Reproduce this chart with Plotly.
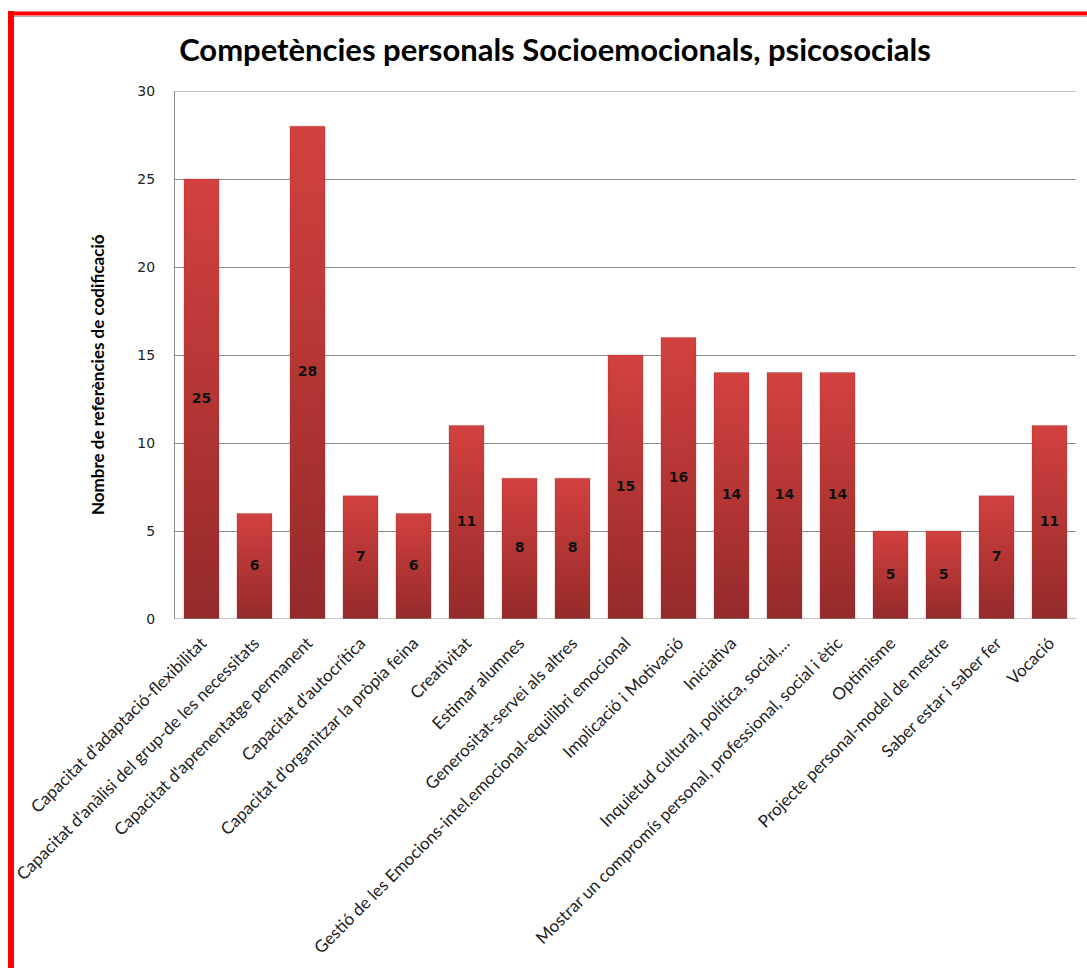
import plotly.graph_objects as go

# Categories and counts
categories = [
    "Capacitat d'adaptació-flexibilitat",
    "Capacitat d'anàlisi del grup-de les necessitats",
    "Capacitat d'aprenentatge permanent",
    "Capacitat d'autocrítica",
    "Capacitat d'organitzar la pròpia feina",
    "Creativitat",
    "Estimar alumnes",
    "Generositat-servei als altres",
    "Gestió de les Emocions-intel.emocional-equilibri emocional",
    "Implicació i Motivació",
    "Iniciativa",
    "Inquietud cultural, política, social,...",
    "Mostrar un compromís personal, professional, social i ètic",
    "Optimisme",
    "Projecte personal-model de mestre",
    "Saber estar i saber fer",
    "Vocació",
]
values = [25, 6, 28, 7, 6, 11, 8, 8, 15, 16, 14, 14, 14, 5, 5, 7, 11]

y_ticks = [0, 5, 10, 15, 20, 25, 30]

W, H = 1087, 968
L, R, T, B = 175, 11, 91, 349
PW, PH = W - L - R, H - T - B

def px_x(p):
    return (p - L) / PW

def px_y(p):
    return (H - B - p) / PH

half = 0.33
fig = go.Figure()

# one filled shape per bar with a vertical red gradient
for i, v in enumerate(values):
    fig.add_trace(go.Scatter(
        x=[i - half, i - half, i + half, i + half, i - half],
        y=[0, v, v, 0, 0],
        mode="lines",
        line=dict(width=0.8, color="rgba(140,40,40,0.35)"),
        fill="toself",
        fillgradient=dict(
            type="vertical",
            colorscale=[[0, "#952a2a"], [1, "#d2413f"]],
        ),
        hoverinfo="skip",
        showlegend=False,
    ))

# value labels in the middle of each bar
fig.add_trace(go.Scatter(
    x=list(range(len(values))),
    y=[v / 2 for v in values],
    mode="text",
    text=[str(v) for v in values],
    textfont=dict(family="DejaVu Sans", size=14, color="#111111", weight="bold"),
    textposition="middle center",
    hoverinfo="skip",
    showlegend=False,
))

fig.update_layout(
    width=W,
    height=H,
    margin=dict(l=L, r=R, t=T, b=B, autoexpand=False),
    paper_bgcolor="white",
    plot_bgcolor="white",
    title=dict(
        text="<b>Competències personals Socioemocionals, psicosocials</b>",
        font=dict(family="Lato", size=31, color="#000000"),
        x=555 / W,
        xanchor="center",
        xref="container",
        y=1 - 50 / H,
        yanchor="middle",
        yref="container",
    ),
    xaxis=dict(
        range=[-0.5, len(values) - 0.5],
        tickvals=list(range(len(values))),
        ticktext=categories,
        tickangle=-45,
        tickfont=dict(family="Lato", size=17, color="#222222"),
        showgrid=False,
        zeroline=False,
        showline=False,
        ticks="",
        ticklabelstandoff=10,
        automargin=False,
    ),
    yaxis=dict(
        range=[0, 30],
        tickvals=y_ticks,
        tickfont=dict(family="DejaVu Sans", size=14, color="#222222"),
        showgrid=True,
        gridcolor="#8c8c8c",
        gridwidth=1,
        zeroline=False,
        showline=True,
        linecolor="#8c8c8c",
        linewidth=1,
        ticks="",
        ticklabelstandoff=16,
        automargin=False,
    ),
    annotations=[
        dict(
            text="<b>Nombre de referències de codificació</b>",
            xref="paper", yref="paper",
            x=px_x(97), y=px_y(375),
            textangle=-90,
            showarrow=False,
            font=dict(family="Lato", size=17, color="#000000"),
            xanchor="center", yanchor="middle",
        )
    ],
    shapes=[
        # gridlines along the bottom and top of the value range
        dict(type="line", xref="paper", yref="y",
             x0=0, x1=1, y0=y_ticks[0], y1=y_ticks[0],
             line=dict(color="#8c8c8c", width=1)),
        dict(type="line", xref="paper", yref="y",
             x0=0, x1=1, y0=y_ticks[-1], y1=y_ticks[-1],
             line=dict(color="#8c8c8c", width=1)),
        # frame around the chart
        dict(type="line", xref="paper", yref="paper",
             x0=px_x(11), x1=px_x(11), y0=px_y(11), y1=px_y(H + 5),
             line=dict(color="#ff0000", width=6)),
        dict(type="line", xref="paper", yref="paper",
             x0=px_x(8), x1=px_x(W + 5), y0=px_y(13.5), y1=px_y(13.5),
             line=dict(color="#ff0000", width=4)),
        dict(type="line", xref="paper", yref="paper",
             x0=px_x(14), x1=px_x(W + 5), y0=px_y(16.5), y1=px_y(16.5),
             line=dict(color="#b0b0b0", width=1)),
    ],
)

fig.write_html("out.html")
